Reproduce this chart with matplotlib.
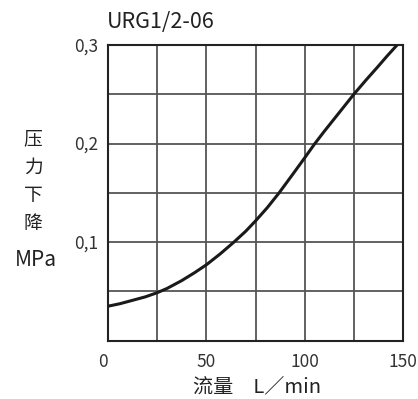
import matplotlib
matplotlib.use('Agg')
import matplotlib.pyplot as plt

# readings taken off the reference curve
flow = [0, 6, 12.5, 19, 25, 30, 37.5, 44, 50, 57, 64, 70, 75, 81, 87, 94, 100, 105, 110, 115, 120, 125, 131, 137, 142, 147]
drop = [0.035, 0.0375, 0.041, 0.0445, 0.0487, 0.053, 0.061, 0.069, 0.077, 0.088, 0.100, 0.111, 0.1215, 0.135, 0.150, 0.169,
        0.1855, 0.1995, 0.2125, 0.225, 0.2375, 0.250, 0.264, 0.2775, 0.289, 0.300]

x_ticks = [0, 50, 100, 150]
y_ticks = [0.1, 0.2, 0.3]
y_tick_labels = ['0,1', '0,2', '0,3']
title = 'URG1/2-06'
x_label = '流量　L／min'
y_label = '压\n力\n下\n降'
y_unit = 'MPa'

plt.rcParams['font.family'] = ['Noto Sans CJK SC', 'DejaVu Sans']

fig = plt.figure(figsize=(4.18, 3.99), dpi=100)
ax = fig.add_axes([0.2584, 0.1461, 0.7057, 0.7411])

ax.plot(flow, drop, color='#1a1a1a', linewidth=2.2, solid_capstyle='butt', solid_joinstyle='round', zorder=3)

ax.set_xlim(0, 150)
ax.set_ylim(0, 0.3)
ax.set_xticks([v for v in range(0, 151, 25)])
ax.set_yticks([i * 0.05 for i in range(7)])
ax.grid(True, color='#555555', linewidth=1.3)
ax.tick_params(length=0, labelbottom=False, labelleft=False)
for s in ax.spines.values():
    s.set_color('#222222')
    s.set_linewidth(1.5)

tick_font = dict(fontsize=12.5, color='#333333', fontweight='light')
for v in x_ticks:
    xo = -4 if v == 0 else 0
    ax.annotate(str(v), (v, 0), xytext=(xo, -9), textcoords='offset points',
                ha='center', va='top', **tick_font)
for v, lab in zip(y_ticks, y_tick_labels):
    ax.annotate(lab, (0, v), xytext=(-7, -1), textcoords='offset points',
                ha='right', va='center', **tick_font)

fig.text(107 / 418, 1 - 22 / 399, title, fontsize=15.5, color='#222222', ha='left', va='center')
fig.text(257 / 418, 1 - 387 / 399, x_label, fontsize=14.5, color='#222222', ha='center', va='center')
fig.text(33 / 418, 1 - 181 / 399, y_label, fontsize=13.5, color='#222222', ha='center', va='center',
         linespacing=1.45)
fig.text(36 / 418, 1 - 260 / 399, y_unit, fontsize=15, color='#222222', ha='center', va='center')

fig.savefig('out.png', dpi=100)
